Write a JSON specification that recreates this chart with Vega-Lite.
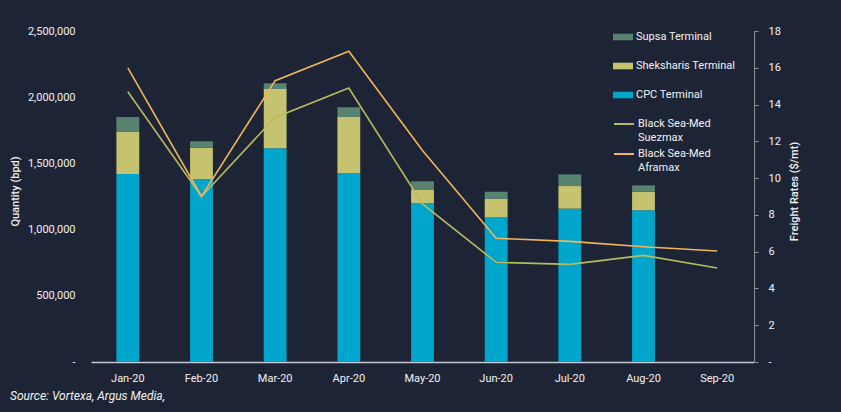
{
  "$schema": "https://vega.github.io/schema/vega-lite/v6.json",
  "width": 663,
  "height": 331,
  "autosize": {"type": "none"},
  "padding": {"left": 91, "top": 31, "right": 87, "bottom": 50},
  "background": "#1d2436",
  "config": {
    "view": {"stroke": null},
    "font": "Roboto",
    "axis": {"labelFont": "Roboto", "titleFont": "Roboto", "labelColor": "#f2f2f2", "titleColor": "#f2f2f2", "grid": false, "labelFontSize": 11, "titleFontSize": 11, "titleFontWeight": 500, "labelOverlap": false},
    "legend": {"labelFont": "Roboto", "labelColor": "#f2f2f2", "labelFontSize": 11, "padding": 0}
  },
  "title": {
    "text": "Source: Vortexa, Argus Media,",
    "orient": "bottom",
    "anchor": "start",
    "frame": "group",
    "dx": -81,
    "offset": 8,
    "font": "Roboto",
    "fontSize": 12,
    "fontStyle": "italic",
    "fontWeight": "normal",
    "color": "#f2f2f2"
  },
  "datasets": {
    "bars": [
      {"month": "Jan-20", "terminal": "CPC Terminal", "value": 1420000},
      {"month": "Jan-20", "terminal": "Sheksharis Terminal", "value": 319000},
      {"month": "Jan-20", "terminal": "Supsa Terminal", "value": 111000},
      {"month": "Feb-20", "terminal": "CPC Terminal", "value": 1380000},
      {"month": "Feb-20", "terminal": "Sheksharis Terminal", "value": 238000},
      {"month": "Feb-20", "terminal": "Supsa Terminal", "value": 49000},
      {"month": "Mar-20", "terminal": "CPC Terminal", "value": 1614000},
      {"month": "Mar-20", "terminal": "Sheksharis Terminal", "value": 448000},
      {"month": "Mar-20", "terminal": "Supsa Terminal", "value": 43000},
      {"month": "Apr-20", "terminal": "CPC Terminal", "value": 1425000},
      {"month": "Apr-20", "terminal": "Sheksharis Terminal", "value": 425000},
      {"month": "Apr-20", "terminal": "Supsa Terminal", "value": 74000},
      {"month": "May-20", "terminal": "CPC Terminal", "value": 1199000},
      {"month": "May-20", "terminal": "Sheksharis Terminal", "value": 100000},
      {"month": "May-20", "terminal": "Supsa Terminal", "value": 66000},
      {"month": "Jun-20", "terminal": "CPC Terminal", "value": 1093000},
      {"month": "Jun-20", "terminal": "Sheksharis Terminal", "value": 138000},
      {"month": "Jun-20", "terminal": "Supsa Terminal", "value": 55000},
      {"month": "Jul-20", "terminal": "CPC Terminal", "value": 1158000},
      {"month": "Jul-20", "terminal": "Sheksharis Terminal", "value": 171000},
      {"month": "Jul-20", "terminal": "Supsa Terminal", "value": 88000},
      {"month": "Aug-20", "terminal": "CPC Terminal", "value": 1146000},
      {"month": "Aug-20", "terminal": "Sheksharis Terminal", "value": 140000},
      {"month": "Aug-20", "terminal": "Supsa Terminal", "value": 48000}
    ],
    "rates": [
      {"month": "Jan-20", "route": "Black Sea-Med Suezmax", "rate": 14.7},
      {"month": "Feb-20", "route": "Black Sea-Med Suezmax", "rate": 9.0},
      {"month": "Mar-20", "route": "Black Sea-Med Suezmax", "rate": 13.3},
      {"month": "Apr-20", "route": "Black Sea-Med Suezmax", "rate": 14.9},
      {"month": "May-20", "route": "Black Sea-Med Suezmax", "rate": 8.6},
      {"month": "Jun-20", "route": "Black Sea-Med Suezmax", "rate": 5.42},
      {"month": "Jul-20", "route": "Black Sea-Med Suezmax", "rate": 5.31},
      {"month": "Aug-20", "route": "Black Sea-Med Suezmax", "rate": 5.8},
      {"month": "Sep-20", "route": "Black Sea-Med Suezmax", "rate": 5.11},
      {"month": "Jan-20", "route": "Black Sea-Med Aframax", "rate": 16.0},
      {"month": "Feb-20", "route": "Black Sea-Med Aframax", "rate": 9.0},
      {"month": "Mar-20", "route": "Black Sea-Med Aframax", "rate": 15.3},
      {"month": "Apr-20", "route": "Black Sea-Med Aframax", "rate": 16.9},
      {"month": "May-20", "route": "Black Sea-Med Aframax", "rate": 11.5},
      {"month": "Jun-20", "route": "Black Sea-Med Aframax", "rate": 6.73},
      {"month": "Jul-20", "route": "Black Sea-Med Aframax", "rate": 6.56},
      {"month": "Aug-20", "route": "Black Sea-Med Aframax", "rate": 6.27},
      {"month": "Sep-20", "route": "Black Sea-Med Aframax", "rate": 6.04}
    ]
  },
  "layer": [
    {
      "data": {"name": "bars"},
      "mark": {"type": "bar"},
      "encoding": {
        "x": {
          "field": "month", "type": "nominal",
          "scale": {"domain": ["Jan-20","Feb-20","Mar-20","Apr-20","May-20","Jun-20","Jul-20","Aug-20","Sep-20"], "paddingInner": 0.69, "paddingOuter": 0.345},
          "axis": {"title": null, "labelAngle": 0, "ticks": false, "labelPadding": 10, "domainColor": "#c3c7cf", "domainWidth": 1.5}
        },
        "y": {
          "field": "value", "type": "quantitative", "stack": "zero",
          "scale": {"domain": [0, 2500000], "nice": false},
          "axis": {"title": "Quantity (bpd)", "values": [0, 500000, 1000000, 1500000, 2000000, 2500000], "labelExpr": "datum.value == 0 ? '-' : format(datum.value, ',')", "domain": false, "ticks": false, "labelPadding": 16, "titleAngle": 270, "titleX": -76, "titleY": 160, "titleBaseline": "middle", "titleAlign": "center"}
        },
        "color": {
          "field": "terminal", "type": "nominal",
          "scale": {"domain": ["Supsa Terminal", "Sheksharis Terminal", "CPC Terminal"], "range": ["#578370", "#c5c370", "#00a5cc"]},
          "legend": {"title": null, "orient": "none", "legendX": 522, "legendY": -4, "symbolType": "M-1,-0.33H1V0.33H-1Z", "symbolSize": 400, "symbolOpacity": 1, "symbolStrokeWidth": 0, "rowPadding": 14, "labelOffset": 3}
        },
        "order": {"field": "terminal", "sort": "ascending"}
      }
    },
    {
      "data": {"name": "rates"},
      "mark": {"type": "line", "strokeWidth": 1.6},
      "encoding": {
        "x": {"field": "month", "type": "nominal"},
        "y": {
          "field": "rate", "type": "quantitative",
          "scale": {"domain": [0, 18], "nice": false},
          "axis": {"title": "Freight Rates ($/mt)", "orient": "right", "values": [0,2,4,6,8,10,12,14,16,18], "labelExpr": "datum.value == 0 ? '-' : datum.label", "domainColor": "#8a8f99", "tickColor": "#8a8f99", "tickSize": 4, "labelPadding": 10, "titleAngle": 270, "titleX": 40, "titleY": 160, "titleBaseline": "middle", "titleAlign": "center"}
        },
        "stroke": {
          "field": "route", "type": "nominal",
          "scale": {"domain": ["Black Sea-Med Suezmax", "Black Sea-Med Aframax"], "range": ["#b9ba5e", "#f2b65a"]},
          "legend": {"title": null, "orient": "none", "legendX": 522, "legendY": 82, "symbolType": "stroke", "symbolSize": 400, "symbolStrokeWidth": 2, "rowPadding": -2, "labelOffset": 3, "labelBaseline": "top", "labelExpr": "[slice(datum.label, 0, 13), slice(datum.label, 14)]", "encode": {"labels": {"update": {"dy": {"value": -6}, "lineHeight": {"value": 14}}}}}
        }
      }
    }
  ],
  "resolve": {"scale": {"y": "independent"}}
}
